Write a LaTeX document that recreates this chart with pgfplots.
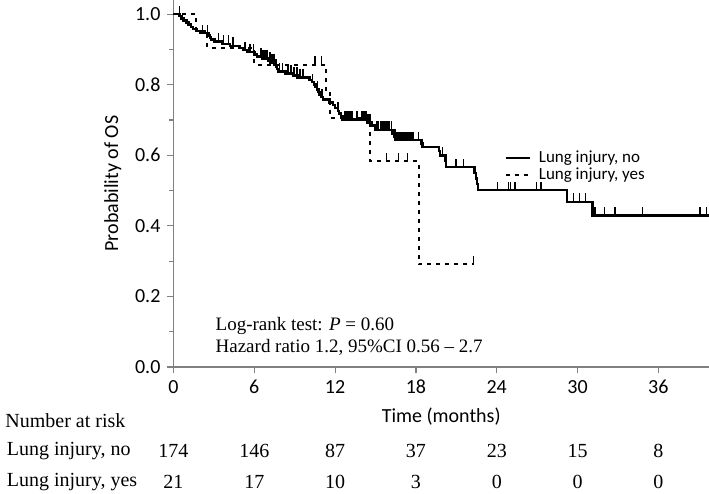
\documentclass[border=0pt]{standalone}
\usepackage{fontspec}
\setmainfont{Carlito}
\newfontfamily\tnr[Ligatures=TeX]{Liberation Serif}
\usepackage{pgfplots}
\pgfplotsset{compat=1.18}
\pgfdeclareplotmark{cens}{\pgfpathmoveto{\pgfqpoint{0pt}{0pt}}\pgfpathlineto{\pgfqpoint{0pt}{4.2pt}}\pgfusepathqstroke}
\begin{document}
\begin{tikzpicture}
\useasboundingbox (-86.75pt,-63.5pt) rectangle (267.75pt,183.5pt);
\begin{axis}[
  at={(0,0)}, anchor=south west,
  scale only axis, width=267.75pt, height=183.5pt,
  xmin=0, xmax=39.76, ymin=0, ymax=1.04,
  axis x line=bottom, axis y line=left,
  axis line style={-, color=gray, line width=0.6pt},
  xtick={0,6,...,36}, ytick={0,0.2,...,1.0},
  minor y tick num=1,
  tick align=outside, major tick length=3pt, minor tick length=2pt,
  tick style={gray, line width=0.6pt},
  yticklabel style={/pgf/number format/.cd, fixed, fixed zerofill, precision=1},
  /pgf/number format/assume math mode=true,
  tick label style={font=\fontsize{10}{12}\selectfont},
  label style={font=\fontsize{10}{12}\selectfont},
  xlabel={Time (months)}, ylabel={Probability of OS},
  legend style={draw=none, fill=none, at={(rel axis cs:0.606,0.612)}, anchor=north west,
    font=\fontsize{8.5}{10}\selectfont, row sep=-3pt},
  legend cell align=left,
  legend image code/.code={\draw[#1] (0pt,0pt) -- (12pt,0pt);},
  legend style={nodes={inner xsep=4pt}},
]
% Lung injury, no
\addplot[const plot, black, line width=1.25pt] table {
t S
0 1.0
0.45 0.994
0.6 0.988
0.75 0.982
0.95 0.976
1.1 0.970
1.3 0.964
1.45 0.958
1.7 0.952
2.0 0.946
2.6 0.940
2.7 0.934
2.8 0.928
3.05 0.922
3.6 0.916
4.2 0.910
4.9 0.904
5.2 0.898
5.5 0.892
6.0 0.886
6.2 0.880
6.6 0.874
7.0 0.868
7.2 0.862
7.5 0.856
7.6 0.850
7.7 0.844
7.8 0.838
8.3 0.832
8.9 0.826
9.2 0.820
10.1 0.814
10.3 0.807
10.45 0.800
10.55 0.793
10.65 0.786
10.75 0.779
10.85 0.772
10.95 0.765
11.1 0.758
11.6 0.750
11.85 0.742
12.0 0.734
12.2 0.726
12.3 0.718
12.45 0.710
12.55 0.702
14.4 0.693
14.7 0.684
14.95 0.672
16.25 0.662
16.4 0.652
16.5 0.643
18.4 0.633
18.5 0.624
19.7 0.612
19.8 0.600
20.2 0.585
20.25 0.567
22.35 0.550
22.45 0.534
22.55 0.518
22.6 0.501
29.2 0.468
31.1 0.429
40 0.429
};
\addlegendentry{Lung injury, no}
% Lung injury, yes
\addplot[const plot, black, line width=1pt, dash pattern=on 2pt off 2.5pt] table {
t S
0 1.0
1.7 0.952
2.5 0.905
6.0 0.857
11.3 0.786
11.6 0.707
14.6 0.583
18.2 0.291
22.3 0.291
};
\addlegendentry{Lung injury, yes}
% censoring marks, no
\addplot[only marks, mark=cens, mark options={solid, black, line width=0.6pt}, forget plot] table {
t S
0.43 1.0
2.17 0.946
2.54 0.946
3.33 0.922
3.70 0.916
4.07 0.916
4.42 0.910
5.31 0.898
5.68 0.892
5.92 0.892
6.50 0.880
6.64 0.874
6.79 0.874
6.94 0.874
7.16 0.868
7.31 0.862
7.46 0.862
7.61 0.850
7.90 0.838
8.12 0.838
8.50 0.832
8.72 0.832
8.94 0.826
9.17 0.826
9.39 0.820
9.61 0.820
10.35 0.807
10.72 0.786
11.02 0.765
12.21 0.726
12.73 0.702
12.88 0.702
13.03 0.702
13.18 0.702
13.32 0.702
13.62 0.702
14.0 0.702
14.14 0.702
14.29 0.702
14.44 0.693
14.59 0.693
15.11 0.672
15.25 0.672
15.40 0.672
15.55 0.672
15.70 0.672
15.85 0.672
16.0 0.672
16.2 0.672
16.44 0.652
16.59 0.643
16.74 0.643
16.89 0.643
17.04 0.643
17.19 0.643
17.33 0.643
17.48 0.643
17.63 0.643
17.78 0.643
18.17 0.643
20.0 0.600
20.28 0.567
20.97 0.567
21.51 0.567
24.07 0.501
24.85 0.501
25.03 0.501
25.35 0.501
26.96 0.501
27.28 0.501
29.68 0.468
30.13 0.468
30.62 0.468
31.29 0.429
32.03 0.429
32.78 0.429
34.83 0.429
39.09 0.429
39.58 0.429
};
% censoring marks, yes
\addplot[only marks, mark=cens, mark options={solid, black, line width=0.6pt}, forget plot] table {
t S
10.5 0.857
11.0 0.857
15.8 0.583
16.7 0.583
17.4 0.583
22.3 0.291
};
\node[anchor=west, font=\tnr\fontsize{9.5}{11}\selectfont, inner sep=0pt] at (axis cs:3.1,0.116) {Log-rank test: \textit{P} = 0.60};
\node[anchor=west, font=\tnr\fontsize{9.5}{11}\selectfont, inner sep=0pt] at (axis cs:3.1,0.055) {Hazard ratio 1.2, 95\%CI 0.56 -- 2.7};
\end{axis}
\begin{scope}[font=\tnr\fontsize{10}{12}\selectfont]
\node[anchor=west, inner sep=0pt] at (-84.25pt,-27pt) {Number at risk};
\node[anchor=west, inner sep=0pt] at (-83.5pt,-42pt) {Lung injury, no};
\node[anchor=west, inner sep=0pt] at (-83.5pt,-57.5pt) {Lung injury, yes};
\foreach \t/\n in {0/174,6/146,12/87,18/37,24/23,30/15,36/8} {
  \node[inner sep=0pt] at (\t*6.735pt,-42pt) {\n};
}
\foreach \t/\n in {0/21,6/17,12/10,18/3,24/0,30/0,36/0} {
  \node[inner sep=0pt] at (\t*6.735pt,-57.5pt) {\n};
}
\end{scope}
\end{tikzpicture}
\end{document}
